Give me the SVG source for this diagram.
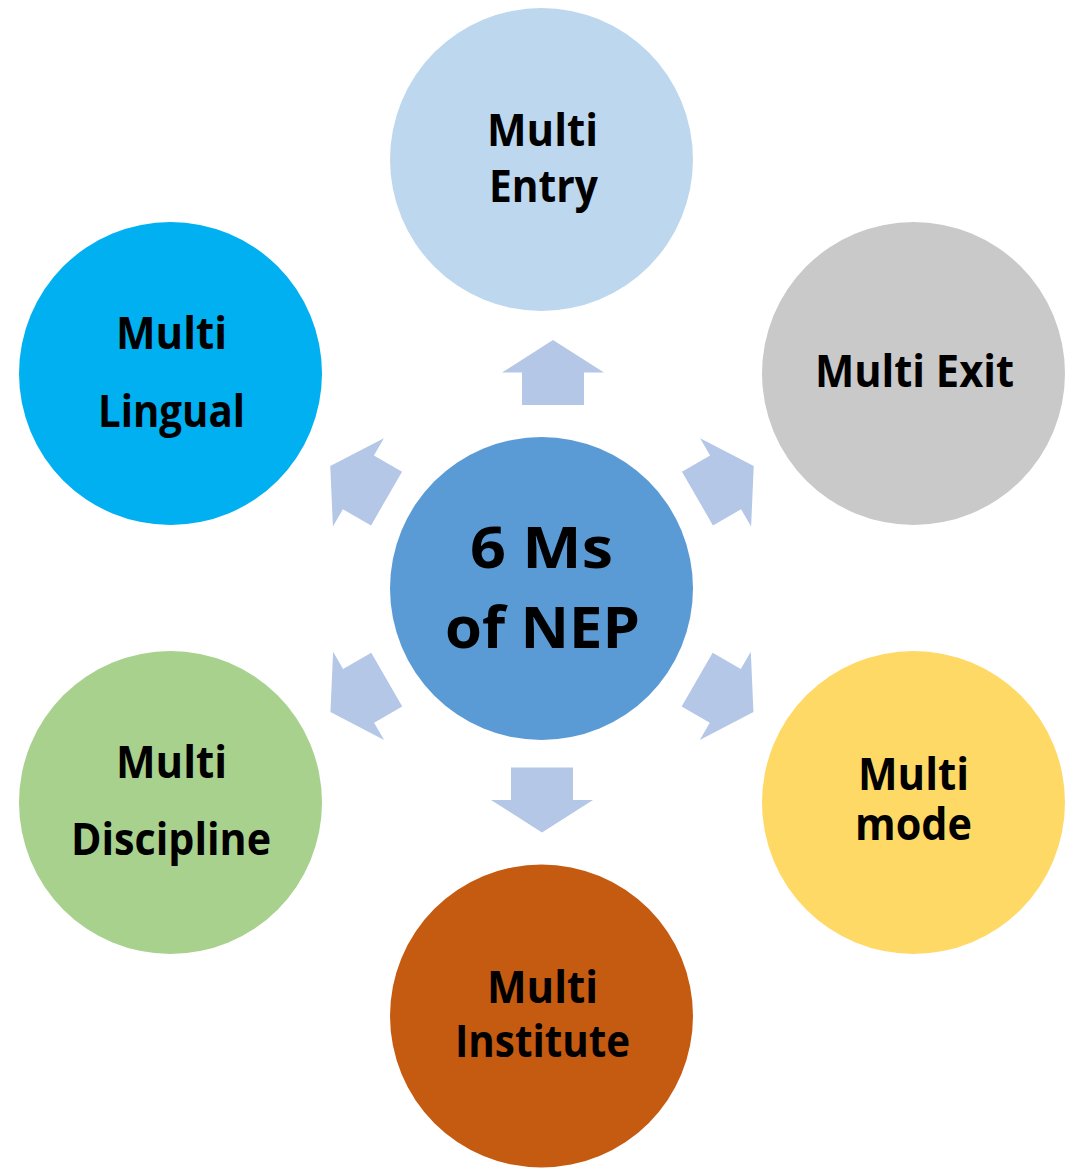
<svg xmlns="http://www.w3.org/2000/svg" width="1076" height="1168" viewBox="0 0 1076 1168">
<style>
.lbl{font-family:"Open Sans","Noto Sans","Liberation Sans",sans-serif;font-weight:700;font-size:45px;fill:#000;text-anchor:middle}
.big{font-size:58px}
.arr{fill:#B4C7E7}
</style>
<defs>
<polygon id="arrow" points="0,-32.5 51,0 31,0 31,32.5 -31,32.5 -31,0 -51,0"/>
</defs>
<rect width="1076" height="1168" fill="#fff"/>
<g id="connectors" class="arr">
<use href="#arrow" transform="translate(553,372.5)"/>
<use href="#arrow" transform="translate(725.6,482.3) rotate(60)"/>
<use href="#arrow" transform="translate(725.3,695.8) rotate(120)"/>
<use href="#arrow" transform="translate(542,800) rotate(180)"/>
<use href="#arrow" transform="translate(358.6,695.8) rotate(240)"/>
<use href="#arrow" transform="translate(358.4,482.3) rotate(300)"/>
</g>
<g id="center">
<circle cx="541.5" cy="588.5" r="151.5" fill="#5B9BD5"/>
<text class="lbl big" x="541.5" y="568" textLength="143" lengthAdjust="spacingAndGlyphs">6 Ms</text>
<text class="lbl big" x="542.5" y="648" textLength="195" lengthAdjust="spacingAndGlyphs">of NEP</text>
</g>
<g id="multi-entry">
<circle cx="541.5" cy="159.5" r="151.5" fill="#BDD7EE"/>
<text class="lbl" x="542.5" y="146" textLength="111" lengthAdjust="spacingAndGlyphs">Multi</text>
<text class="lbl" x="543.5" y="202" textLength="109" lengthAdjust="spacingAndGlyphs">Entry</text>
</g>
<g id="multi-exit">
<circle cx="913.5" cy="373.5" r="151.5" fill="#C9C9C9"/>
<text class="lbl" x="914.5" y="387" textLength="199" lengthAdjust="spacingAndGlyphs">Multi Exit</text>
</g>
<g id="multi-lingual">
<circle cx="170.5" cy="373.5" r="151.5" fill="#00B0F0"/>
<text class="lbl" x="171.5" y="349" textLength="111" lengthAdjust="spacingAndGlyphs">Multi</text>
<text class="lbl" x="171.5" y="427" textLength="147" lengthAdjust="spacingAndGlyphs">Lingual</text>
</g>
<g id="multi-discipline">
<circle cx="170.5" cy="802.5" r="151.5" fill="#A9D18E"/>
<text class="lbl" x="171.5" y="778" textLength="111" lengthAdjust="spacingAndGlyphs">Multi</text>
<text class="lbl" x="171" y="855" textLength="200" lengthAdjust="spacingAndGlyphs">Discipline</text>
</g>
<g id="multi-mode">
<circle cx="913.5" cy="802.5" r="151.5" fill="#FFD966"/>
<text class="lbl" x="913.5" y="790" textLength="111" lengthAdjust="spacingAndGlyphs">Multi</text>
<text class="lbl" x="913.5" y="840" textLength="117" lengthAdjust="spacingAndGlyphs">mode</text>
</g>
<g id="multi-institute">
<circle cx="541.5" cy="1016" r="151.5" fill="#C55A11"/>
<text class="lbl" x="542.5" y="1003" textLength="111" lengthAdjust="spacingAndGlyphs">Multi</text>
<text class="lbl" x="542.5" y="1057" textLength="175" lengthAdjust="spacingAndGlyphs">Institute</text>
</g>
</svg>
